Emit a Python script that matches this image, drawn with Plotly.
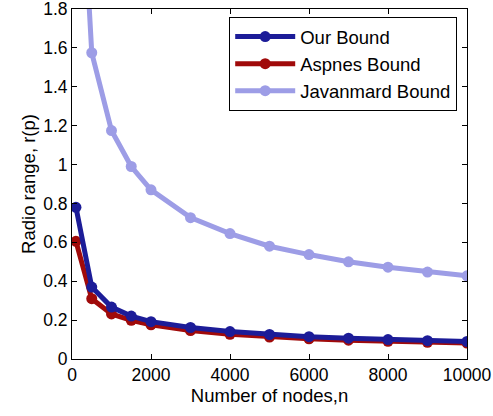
import plotly.graph_objects as go

# Network sizes and radio-range bounds
nodes = [100, 500, 1000, 1500, 2000, 3000, 4000, 5000, 6000, 7000, 8000, 9000, 10000]
our_bound = [0.78, 0.37, 0.267, 0.221, 0.192, 0.162, 0.141, 0.126, 0.115, 0.107, 0.100, 0.094, 0.090]
aspnes_bound = [0.605, 0.310, 0.232, 0.199, 0.176, 0.146, 0.127, 0.113, 0.104, 0.097, 0.091, 0.086, 0.082]
javanmard_bound = [3.03, 1.575, 1.175, 0.99, 0.87, 0.727, 0.645, 0.580, 0.537, 0.500, 0.472, 0.447, 0.428]

x_ticks = [0, 2000, 4000, 6000, 8000, 10000]
x_tick_text = ["0", "2000", "4000", "6000", "8000", "10000"]
y_ticks = [0, 0.2, 0.4, 0.6, 0.8, 1.0, 1.2, 1.4, 1.6, 1.8]
y_tick_text = ["0", "0.2", "0.4", "0.6", "0.8", "1", "1.2", "1.4", "1.6", "1.8"]

series = [
    ("Aspnes Bound", aspnes_bound, "#a00a0a", 2),
    ("Our Bound", our_bound, "#1c1c98", 1),
    ("Javanmard Bound", javanmard_bound, "#9d9de6", 3),
]

fig = go.Figure()
for name, vals, color, rank in series:
    fig.add_trace(go.Scatter(
        x=nodes, y=vals, name=name, mode="lines+markers",
        line=dict(color=color, width=5),
        marker=dict(color=color, size=11, symbol="circle"),
        legendrank=rank,
    ))

FONT = "Liberation Sans, Arial, sans-serif"
axis_common = dict(
    showline=True, linecolor="black", linewidth=1, mirror="ticks",
    ticks="inside", ticklen=5, tickcolor="black", showgrid=False, zeroline=False,
    tickfont=dict(family=FONT, size=17.5, color="black"),
    ticklabeloverflow="allow", automargin=False,
)

fig.update_layout(
    width=493, height=416,
    margin=dict(l=72, r=26, t=9, b=57),
    paper_bgcolor="white", plot_bgcolor="white",
    font=dict(family=FONT, color="black"),
    xaxis=dict(range=[0, 10000], tickvals=x_ticks, ticktext=x_tick_text,
               title=dict(text="Number of nodes,n", font=dict(size=18.5), standoff=2),
               **axis_common),
    yaxis=dict(range=[0, 1.8], tickvals=y_ticks, ticktext=y_tick_text,
               title=dict(text="Radio range, r(p)", font=dict(size=18.5), standoff=2),
               **axis_common),
    legend=dict(x=0.398, y=0.977, xanchor="left", yanchor="top",
                bordercolor="black", borderwidth=1, bgcolor="white",
                font=dict(size=18.5), itemwidth=60, tracegroupgap=0),
    showlegend=True,
)

fig.write_html("out.html")
